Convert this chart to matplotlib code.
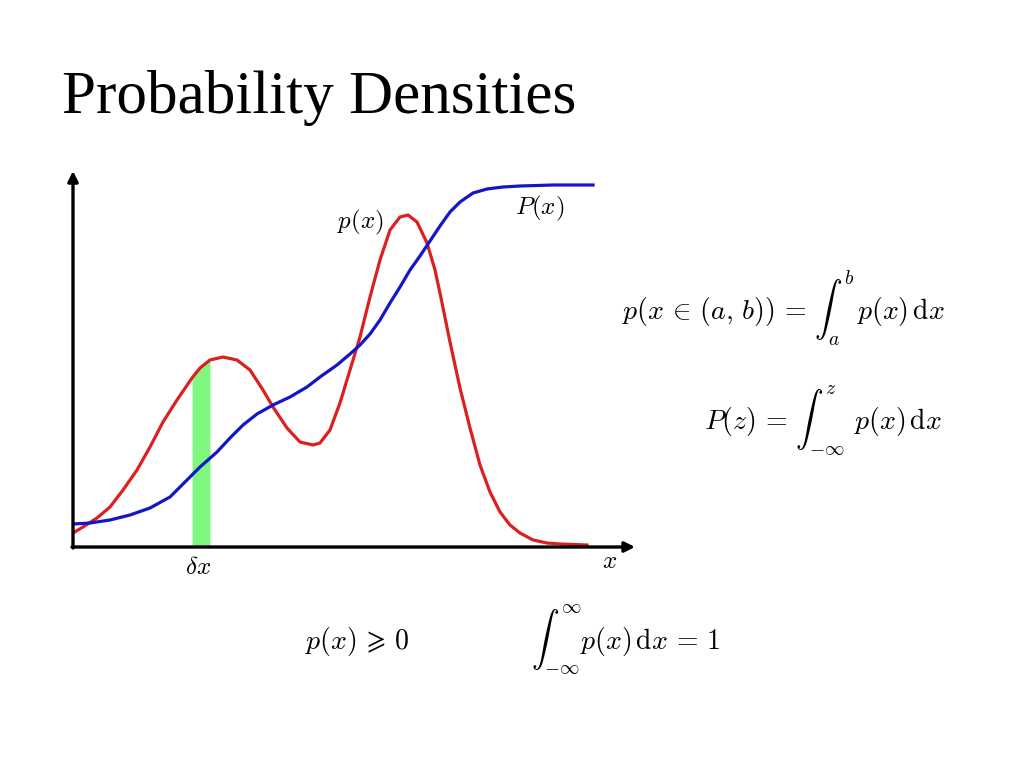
import numpy as np
import matplotlib.pyplot as plt

plt.rcParams["mathtext.fontset"] = "cm"

# curves (x, height above the axis, in pixels)
red_x = [0, 10, 24, 37, 50, 64, 77, 90, 104, 119, 127, 137, 150, 164, 177, 190,
         200, 214, 227, 240, 247, 257, 267, 277, 287, 297, 307, 317, 327, 335,
         344, 354, 362, 367, 377, 387, 397, 407, 417, 427, 437, 447, 460, 474,
         487, 514]
red_y = [14, 20, 29, 40, 57, 77, 100, 125, 147, 169, 179, 187, 190, 187, 177, 157,
         140, 119, 105, 102, 104, 117, 144, 177, 210, 250, 287, 317, 330, 332,
         325, 304, 277, 254, 205, 159, 119, 82, 55, 35, 22, 14, 7, 4,
         3, 2]

blue_x = [0, 17, 37, 57, 77, 97, 114, 127, 144, 157, 170, 184, 200, 217, 234, 247,
          264, 277, 287, 297, 307, 317, 327, 337, 347, 357, 367, 377, 387, 400,
          414, 430, 447, 480, 520]
blue_y = [23, 24, 27, 32, 39, 50, 67, 80, 95, 109, 122, 133, 142, 150, 160, 170,
          182, 193, 202, 213, 227, 244, 260, 277, 291, 306, 321, 335, 345, 354,
          358, 360, 361, 362, 362]

band_lo, band_hi = 119, 137

fig = plt.figure(figsize=(10.24, 7.68), dpi=100)
W, H = 562, 376
ax = fig.add_axes([73 / 1024, (768 - 547) / 768, W / 1024, H / 768])
ax.set_xlim(0, W)
ax.set_ylim(0, H)
ax.axis("off")

rx = np.array(red_x)
ry = np.array(red_y)
ax.fill_between(rx, ry, where=(rx >= band_lo) & (rx <= band_hi),
                color="#80f880", lw=0)
ax.plot(red_x, red_y, color="#dc1f1f", lw=2.3, solid_joinstyle="round")
ax.plot(blue_x, blue_y, color="#1515c8", lw=2.3, solid_joinstyle="round")

arrow = dict(arrowstyle="-|>,head_length=0.6,head_width=0.3", lw=2.4,
             color="black", shrinkA=0, shrinkB=0)
ax.annotate("", xy=(W, 0), xytext=(-1, 0), arrowprops=arrow, annotation_clip=False)
ax.annotate("", xy=(0, H), xytext=(0, -1), arrowprops=arrow, annotation_clip=False)

ax.text(287, 325, r"$p(x)$", fontsize=18, ha="center", va="center")
ax.text(467, 339, r"$P(x)$", fontsize=18, ha="center", va="center")
ax.text(125, -20, r"$\delta x$", fontsize=18, ha="center", va="center")
ax.text(537, -14, r"$x$", fontsize=18, ha="center", va="center")

fig.text(62, 768 - 98, "Probability Densities", fontsize=44,
         family="Liberation Serif", va="center", ha="left",
         transform=None)

fs = 20
fig.text(622 / 1024, 1 - 308 / 768,
         r"$p(x \,\in\, (a,\,b)) \,=\, \int_a^b \,p(x)\,\mathrm{d}x$",
         fontsize=fs, ha="left", va="center")
fig.text(704 / 1024, 1 - 420 / 768,
         r"$P(z) \,=\, \int_{-\infty}^{z} \;\,p(x)\,\mathrm{d}x$",
         fontsize=fs, ha="left", va="center")
fig.text(305 / 1024, 1 - 641 / 768, r"$p(x) \,\geqslant\, 0$",
         fontsize=fs, ha="left", va="center")
fig.text(531 / 1024, 1 - 641 / 768,
         r"$\int_{-\infty}^{\infty} p(x)\,\mathrm{d}x \,=\, 1$",
         fontsize=fs, ha="left", va="center")

fig.savefig("out.png", dpi=100)
